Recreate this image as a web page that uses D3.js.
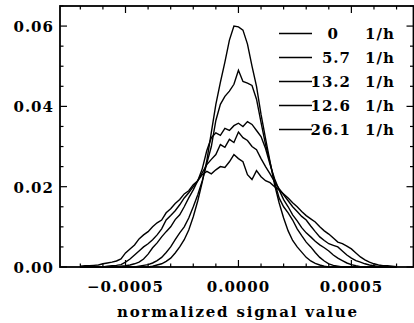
<!DOCTYPE html>
<html>
<head>
<meta charset="utf-8">
<script src="https://cdn.jsdelivr.net/npm/d3@7"></script>
<style>
  body { margin: 0; background: #fff; }
  svg { display: block; }
  text { font-family: "DejaVu Serif", serif; font-weight: bold; fill: #000; letter-spacing: 1px; }
</style>
</head>
<body>
<svg id="chart" width="414" height="323"></svg>
<script>
// bin centres: -0.0007 .. 0.0007, step 0.00002
const binStart = -0.0007, binStep = 0.00002;

const rate0 = [
  0, 0, 0, 0, 0, 0, 0, 0, 0, 0, 0, 0, 0, 0, 0, 0,
  0.0002, 0.0005, 0.0008, 0.0014, 0.0022, 0.0035, 0.0050, 0.0068, 0.0092, 0.0125,
  0.0165, 0.0212, 0.0265, 0.0335, 0.0405, 0.0460, 0.0510, 0.0565, 0.0600, 0.0598,
  0.0590, 0.0555, 0.0500, 0.0450, 0.0380, 0.0320, 0.0262, 0.0205, 0.0160, 0.0122,
  0.0090, 0.0066, 0.0050, 0.0037, 0.0024, 0.0015, 0.0009, 0.0005, 0.0002,
  0, 0, 0, 0, 0, 0, 0, 0, 0, 0, 0, 0, 0, 0, 0, 0
];
const rate57 = [
  0, 0, 0, 0, 0, 0, 0, 0, 0, 0, 0, 0, 0,
  0.0002, 0.0004, 0.0006, 0.0010, 0.0016, 0.0024, 0.0036, 0.0050, 0.0068, 0.0085,
  0.0100, 0.0122, 0.0150, 0.0180, 0.0215, 0.0258, 0.0300, 0.0365, 0.0405, 0.0425,
  0.0438, 0.0455, 0.0490, 0.0462, 0.0458, 0.0452, 0.0418, 0.0360, 0.0305, 0.0260,
  0.0212, 0.0172, 0.0150, 0.0135, 0.0117, 0.0095, 0.0078, 0.0062, 0.0050, 0.0036,
  0.0024, 0.0015, 0.0008, 0.0004, 0.0002,
  0, 0, 0, 0, 0, 0, 0, 0, 0, 0, 0, 0, 0
];
const rate132 = [
  0, 0, 0, 0, 0, 0, 0, 0, 0,
  0.0002, 0.0003, 0.0005, 0.0008, 0.0012, 0.0020, 0.0032, 0.0048, 0.0060, 0.0075,
  0.0088, 0.0100, 0.0118, 0.0130, 0.0150, 0.0172, 0.0192, 0.0215, 0.0245, 0.0290,
  0.0322, 0.0334, 0.0328, 0.0345, 0.0340, 0.0352, 0.0358, 0.0350, 0.0362, 0.0355,
  0.0340, 0.0325, 0.0295, 0.0255, 0.0220, 0.0192, 0.0168, 0.0150, 0.0130, 0.0115,
  0.0098, 0.0085, 0.0075, 0.0064, 0.0055, 0.0048, 0.0040, 0.0030, 0.0022, 0.0016,
  0.0010, 0.0006, 0.0003, 0.0001,
  0, 0, 0, 0, 0, 0, 0, 0
];
const rate126 = [
  0, 0, 0, 0, 0, 0,
  0.0002, 0.0003, 0.0004, 0.0006, 0.0012, 0.0020, 0.0030, 0.0040, 0.0050, 0.0058,
  0.0068, 0.0080, 0.0095, 0.0117, 0.0128, 0.0140, 0.0155, 0.0172, 0.0185, 0.0200,
  0.0215, 0.0235, 0.0255, 0.0268, 0.0280, 0.0305, 0.0298, 0.0318, 0.0310, 0.0336,
  0.0322, 0.0315, 0.0300, 0.0292, 0.0270, 0.0250, 0.0232, 0.0212, 0.0195, 0.0180,
  0.0165, 0.0150, 0.0138, 0.0126, 0.0117, 0.0102, 0.0088, 0.0075, 0.0066, 0.0058,
  0.0054, 0.0050, 0.0040, 0.0030, 0.0022, 0.0016, 0.0012, 0.0008, 0.0005, 0.0003,
  0.0001, 0.0001, 0, 0, 0
];
const rate261 = [
  0.0002, 0.0003, 0.0003, 0.0004, 0.0005, 0.0008, 0.0010, 0.0012, 0.0015, 0.0020,
  0.0035, 0.0045, 0.0055, 0.0070, 0.0080, 0.0088, 0.0100, 0.0110, 0.0117, 0.0135,
  0.0145, 0.0158, 0.0168, 0.0182, 0.0190, 0.0205, 0.0215, 0.0230, 0.0238, 0.0232,
  0.0242, 0.0250, 0.0248, 0.0262, 0.0280, 0.0270, 0.0262, 0.0230, 0.0218, 0.0240,
  0.0225, 0.0215, 0.0210, 0.0200, 0.0192, 0.0182, 0.0172, 0.0160, 0.0150, 0.0138,
  0.0128, 0.0120, 0.0112, 0.0100, 0.0090, 0.0082, 0.0072, 0.0062, 0.0058, 0.0052,
  0.0045, 0.0035, 0.0025, 0.0018, 0.0012, 0.0008, 0.0005, 0.0003, 0.0003, 0.0002,
  0.0001
];

const seriesValues = [rate0, rate57, rate132, rate126, rate261];
const legendNums = ["0", "5.7", "13.2", "12.6", "26.1"];
const legendUnit = "1/h";

const xMajor = [-0.0005, 0, 0.0005];
const xTickLabels = ["\u22120.0005", "0.0000", "0.0005"];
const yMajor = [0, 0.02, 0.04, 0.06];
const yTickLabels = ["0.00", "0.02", "0.04", "0.06"];
const xTitle = "normalized signal value";

const svg = d3.select('svg#chart');
let plotLeft = 60, plotRight = 413.5, plotTop = 6, plotBottom = 267;

let x = d3.scaleLinear().domain([-0.00079, 0.000775]).range([plotLeft, plotRight]);
let y = d3.scaleLinear().domain([0, 0.065]).range([plotBottom, plotTop]);

let xMinor = d3.range(-7, 8).map(i => i * 0.0001);
let yMinor = d3.range(0, 14).map(i => i * 0.005);

// ticks, all pointing inward
let g = svg.append('g').attr('stroke', '#000').attr('stroke-width', 1.2);
xMinor.forEach(v => {
    let major = xMajor.some(m => Math.abs(m - v) < 1e-9);
    let len = major ? 7 : 3.5;
    g.append('line').attr('x1', x(v)).attr('x2', x(v)).attr('y1', plotBottom).attr('y2', plotBottom - len);
    g.append('line').attr('x1', x(v)).attr('x2', x(v)).attr('y1', plotTop).attr('y2', plotTop + len);
});
yMinor.forEach(v => {
    let major = yMajor.some(m => Math.abs(m - v) < 1e-9);
    let len = major ? 7 : 3.5;
    g.append('line').attr('y1', y(v)).attr('y2', y(v)).attr('x1', plotLeft).attr('x2', plotLeft + len);
    g.append('line').attr('y1', y(v)).attr('y2', y(v)).attr('x1', plotRight).attr('x2', plotRight - len);
});

// frame
svg.append('rect')
    .attr('x', plotLeft).attr('y', plotTop)
    .attr('width', plotRight - plotLeft).attr('height', plotBottom - plotTop)
    .attr('fill', 'none').attr('stroke', '#000').attr('stroke-width', 1.8);

// curves
let line = d3.line()
    .x((d, i) => x(binStart + i * binStep))
    .y(d => y(d));

svg.append('g').selectAll('path')
    .data(seriesValues)
    .enter()
    .append('path')
    .attr('d', d => line(d))
    .attr('fill', 'none')
    .attr('stroke', '#000')
    .attr('stroke-width', 1.4)
    .attr('stroke-linejoin', 'miter');

// tick labels
svg.selectAll('text.xl')
    .data(xMajor)
    .enter()
    .append('text')
    .attr('class', 'xl')
    .attr('x', d => x(d))
    .attr('y', 292)
    .attr('text-anchor', 'middle')
    .attr('font-size', 15)
    .text((d, i) => xTickLabels[i]);

svg.selectAll('text.yl')
    .data(yMajor)
    .enter()
    .append('text')
    .attr('class', 'yl')
    .attr('x', 54)
    .attr('y', d => y(d) + 6)
    .attr('text-anchor', 'end')
    .attr('font-size', 15)
    .text((d, i) => yTickLabels[i]);

svg.append('text')
    .attr('x', 117)
    .attr('y', 317)
    .attr('font-size', 15)
    .attr('textLength', 241)
    .attr('lengthAdjust', 'spacing')
    .text(xTitle);

// legend
let legend = svg.append('g');
legendNums.forEach((n, i) => {
    let ly = 33.5 + i * 24;
    legend.append('line')
        .attr('x1', 279).attr('x2', 312)
        .attr('y1', ly).attr('y2', ly)
        .attr('stroke', '#000').attr('stroke-width', 1.4);
    legend.append('text')
        .attr('x', n === "0" ? 339 : 351)
        .attr('y', ly + 5.5)
        .attr('text-anchor', 'end')
        .attr('font-size', 15)
        .text(n);
    legend.append('text')
        .attr('x', 365)
        .attr('y', ly + 5.5)
        .attr('font-size', 15)
        .text(legendUnit);
});
</script>
</body>
</html>
